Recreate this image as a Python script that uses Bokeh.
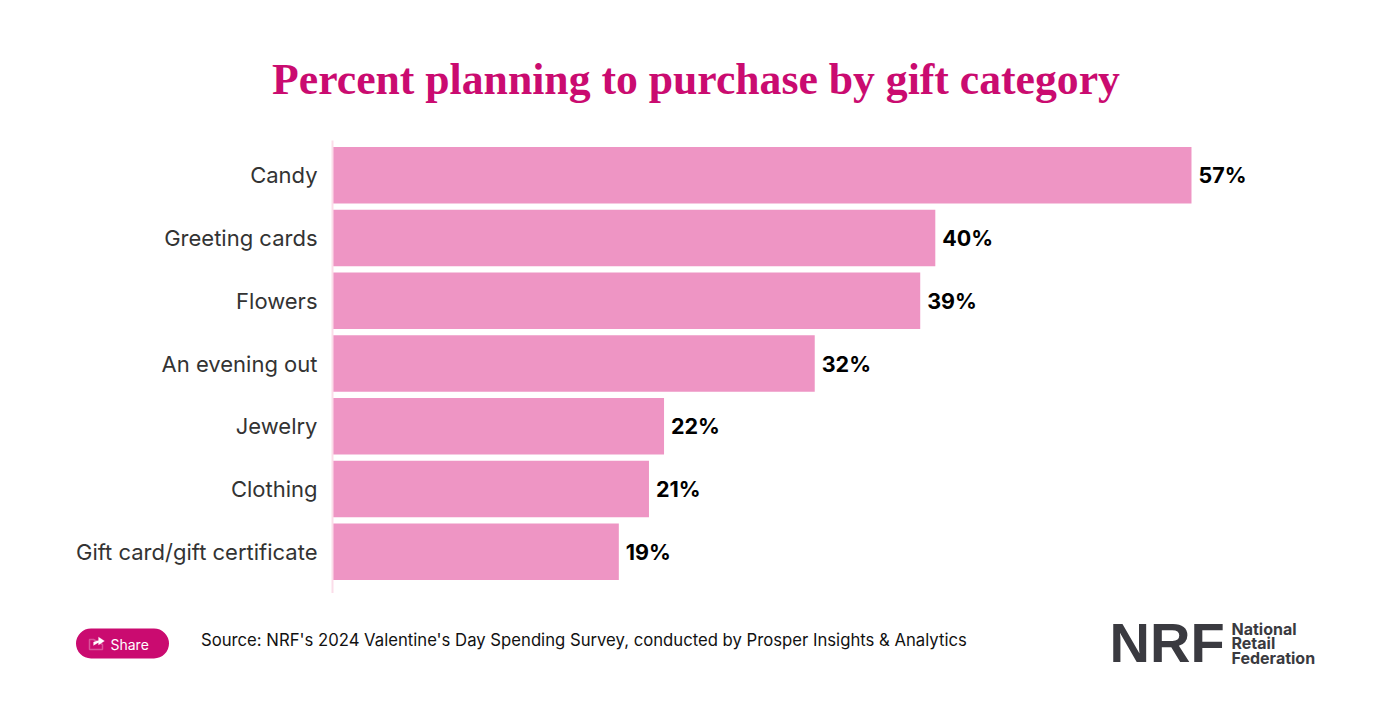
from bokeh.plotting import figure
from bokeh.layouts import column
from bokeh.models import Range1d, FixedTicker, Label, BoxAnnotation, PolyAnnotation, ColumnDataSource
from bokeh.core.properties import value
from bokeh.embed import file_html
from bokeh.resources import INLINE

categories = ["Candy", "Greeting cards", "Flowers", "An evening out", "Jewelry", "Clothing", "Gift card/gift certificate"]
percent = [57, 40, 39, 32, 22, 21, 19]
value_labels = ["57%", "40%", "39%", "32%", "22%", "21%", "19%"]
title_text = "Percent planning to purchase by gift category"
source_text = "Source: NRF's 2024 Valentine's Day Spending Survey, conducted by Prosper Insights & Analytics"

W = 1364
PINK = "#CA0B70"
SANS = "Inter"
INK = "#3A3A40"
positions = list(range(len(categories)))

def blank(y0, y1):
    f = figure(width=W, height=y1 - y0, output_backend="svg", toolbar_location=None,
               x_range=Range1d(0, W), y_range=Range1d(y1, y0),
               min_border_left=0, min_border_right=0, min_border_top=0, min_border_bottom=0,
               background_fill_color="white", border_fill_color="white")
    f.outline_line_color = None
    f.grid.visible = False
    f.axis.visible = False
    return f

def lab(f, text, x, y, size, color="#000000", font=SANS, style="normal", align="left"):
    f.add_layout(Label(x=x, y=y, text=text, text_font=font, text_font_size=size, text_color=color,
                       text_font_style=style, text_align=align, text_baseline="middle"))

head = blank(0, 140)
lab(head, title_text, 695.5, 78, "43.7px", PINK, "Liberation Serif", "bold", "center")

p = figure(width=W, height=453, output_backend="svg", toolbar_location=None,
           x_range=Range1d(0, (1340 - 332) / 15.07),
           y_range=Range1d(6 + 42 / 63, -35 / 63),
           min_border_left=332, min_border_right=W - 1340,
           min_border_top=0, min_border_bottom=0,
           background_fill_color="white", border_fill_color="white")
p.outline_line_color = None
p.grid.visible = False
p.xaxis.visible = False
ax = p.yaxis[0]
ax.ticker = FixedTicker(ticks=positions)
ax.major_label_overrides = dict(zip(positions, categories))
ax.major_tick_line_color = None
ax.minor_tick_line_color = None
ax.axis_line_color = "#FBDDE9"
ax.axis_line_width = 2
ax.major_label_standoff = 9
ax.major_label_text_font = SANS
ax.major_label_text_font_size = "22px"
ax.major_label_text_color = "#333333"

src = ColumnDataSource(dict(y=positions, v=percent, t=value_labels))
p.hbar(y="y", right="v", left=0, height=0.9, source=src, fill_color="#EE95C4", line_color=None)
p.text(x="v", y="y", text="t", source=src, x_offset=7, text_baseline="middle", text_align="left",
       text_font=value(SANS), text_font_style="bold", text_font_size="21.5px", text_color="#000000")

foot = blank(593, 693)
lab(foot, source_text, 200.5, 639.5, "16.7px", "#111111")

# share button
foot.add_layout(BoxAnnotation(left=75.5, right=168.5, top=628, bottom=658, fill_color=PINK, fill_alpha=1,
                              line_color=None, border_radius=15))
lab(foot, "Share", 110, 643.5, "14px", "#FFFFFF")
foot.add_layout(PolyAnnotation(xs=[93, 89, 89, 102, 102], ys=[639, 639, 649, 649, 644],
                               fill_color=None, fill_alpha=0, line_color="white", line_width=1.5))
foot.add_layout(PolyAnnotation(xs=[93, 93, 98, 98, 104, 98, 98], ys=[645, 641.5, 640, 636.5, 640.5, 644.5, 642],
                               fill_color="white", fill_alpha=1, line_color="white", line_width=0.5))

# logo
lab(foot, "NRF", 1109, 642, "56px", INK, "Liberation Sans", "bold")
lab(foot, "National", 1231, 628, "16px", INK, SANS, "bold")
lab(foot, "Retail", 1231, 642.5, "16px", INK, SANS, "bold")
lab(foot, "Federation", 1231, 657, "16px", INK, SANS, "bold")

open("out.html", "w").write(file_html(column(column(head), column(p), column(foot), spacing=0), INLINE))
